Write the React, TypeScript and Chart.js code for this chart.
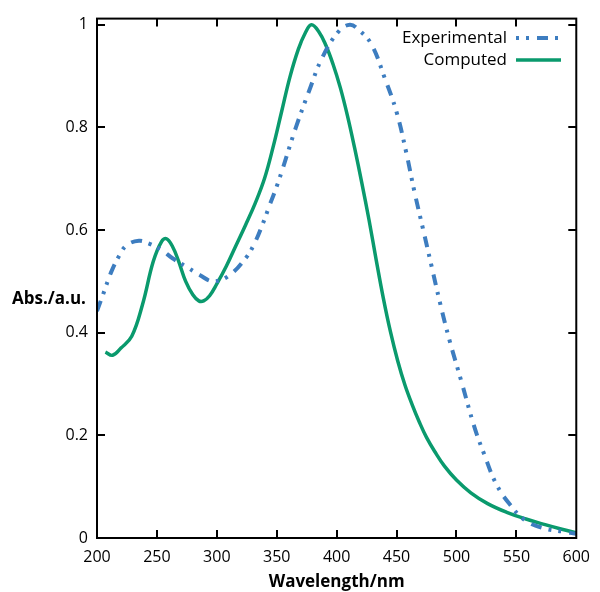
import React, { useEffect, useRef } from "react";
import { Chart, registerables } from "chart.js";

Chart.register(...registerables);

const expWavelength = [200, 205, 212, 219, 225, 235, 243, 254, 263, 275, 286, 297, 310, 324, 331, 338, 344, 350, 355, 366, 377, 388, 402, 411, 418, 429, 440, 450, 458, 465, 472, 479, 486, 494, 504, 515, 523, 533, 544, 557, 573, 590, 600];
const expAbs = [0.442, 0.474, 0.519, 0.552, 0.571, 0.579, 0.574, 0.561, 0.545, 0.528, 0.512, 0.5, 0.511, 0.545, 0.572, 0.61, 0.648, 0.685, 0.72, 0.8, 0.871, 0.936, 0.988, 1.0, 0.991, 0.962, 0.897, 0.83, 0.752, 0.674, 0.603, 0.532, 0.461, 0.387, 0.306, 0.216, 0.164, 0.106, 0.067, 0.035, 0.019, 0.012, 0.008];

const compWavelength = [207, 213, 220, 229, 238, 247, 254, 258, 263, 268, 274, 280, 285, 289, 294, 300, 308, 316, 324, 332, 340, 347, 354, 361, 368, 374, 379, 385, 391, 397, 403, 409, 415, 421, 427, 433, 439, 445, 451, 457, 463, 469, 475, 482, 490, 500, 512, 526, 542, 558, 574, 588, 600];
const compAbs = [0.362, 0.356, 0.37, 0.393, 0.455, 0.539, 0.578, 0.583, 0.568, 0.54, 0.5, 0.474, 0.462, 0.462, 0.472, 0.495, 0.53, 0.57, 0.61, 0.652, 0.702, 0.762, 0.83, 0.898, 0.952, 0.985, 1.0, 0.987, 0.96, 0.923, 0.878, 0.823, 0.76, 0.692, 0.62, 0.542, 0.467, 0.401, 0.345, 0.298, 0.26, 0.226, 0.196, 0.168, 0.14, 0.113, 0.088, 0.067, 0.05, 0.037, 0.026, 0.017, 0.01];

const xTicks = [200, 250, 300, 350, 400, 450, 500, 550, 600];
const yTicks = [0, 0.2, 0.4, 0.6, 0.8, 1];

const seriesNames = ["Experimental", "Computed"];
const BLUE = "#3d7dc0";
const GREEN = "#0a9a6d";
const DASH = [11, 7, 3, 7, 3, 8];
const FONT = '"Open Sans", "DejaVu Sans", sans-serif';

const framePlugin = {
  id: "frame",
  afterDraw(chart: any) {
    const { ctx, chartArea: a, scales } = chart;
    ctx.save();
    ctx.strokeStyle = "#000";
    ctx.lineWidth = 2;
    ctx.strokeRect(a.left, a.top, a.right - a.left, a.bottom - a.top);
    const L = 8;
    ctx.beginPath();
    scales.x.ticks.forEach((t: any) => {
      const px = Math.round(scales.x.getPixelForValue(t.value));
      if (px <= a.left + 1 || px >= a.right - 1) return;
      ctx.moveTo(px, a.bottom);
      ctx.lineTo(px, a.bottom - L);
      ctx.moveTo(px, a.top);
      ctx.lineTo(px, a.top + L);
    });
    scales.y.ticks.forEach((t: any) => {
      const py = Math.round(scales.y.getPixelForValue(t.value));
      if (py >= a.bottom - 1 || py <= a.top + 1) return;
      ctx.moveTo(a.left, py);
      ctx.lineTo(a.left + L, py);
      ctx.moveTo(a.right, py);
      ctx.lineTo(a.right - L, py);
    });
    ctx.stroke();

    // y-axis label (horizontal)
    ctx.fillStyle = "#000";
    ctx.font = `bold 17px ${FONT}`;
    ctx.textAlign = "left";
    ctx.textBaseline = "middle";
    ctx.fillText("Abs./a.u.", 12, 299);

    // legend
    ctx.font = `17px ${FONT}`;
    ctx.textAlign = "right";
    const rows = [
      { name: seriesNames[0], color: BLUE, dash: DASH, y: 38, w: 4 },
      { name: seriesNames[1], color: GREEN, dash: [], y: 60, w: 3.5 },
    ];
    rows.forEach((r) => {
      ctx.fillStyle = "#000";
      ctx.fillText(r.name, 507, r.y);
      ctx.beginPath();
      ctx.strokeStyle = r.color;
      ctx.lineWidth = r.w;
      ctx.setLineDash(r.dash);
      ctx.lineDashOffset = 18;
      ctx.moveTo(516, r.y);
      ctx.lineTo(561, r.y);
      ctx.stroke();
    });
    ctx.restore();
  },
};

export default function App() {
  const ref = useRef<HTMLCanvasElement | null>(null);
  useEffect(() => {
    if (!ref.current) return;
    const chart = new Chart(ref.current, {
      type: "line",
      data: {
        datasets: [
          {
            label: seriesNames[0],
            data: expWavelength.map((x, i) => ({ x, y: expAbs[i] })),
            borderColor: BLUE,
            borderWidth: 4,
            borderDash: DASH,
            pointRadius: 0,
            tension: 0.4,
            fill: false,
          },
          {
            label: seriesNames[1],
            data: compWavelength.map((x, i) => ({ x, y: compAbs[i] })),
            borderColor: GREEN,
            borderWidth: 3.5,
            pointRadius: 0,
            tension: 0.4,
            fill: false,
          },
        ],
      },
      plugins: [framePlugin],
      options: {
        responsive: false,
        animation: false,
        layout: { padding: { left: 0, top: 16, right: 21, bottom: 0 } },
        plugins: { legend: { display: false }, tooltip: { enabled: false } },
        scales: {
          x: {
            type: "linear",
            min: 200,
            max: 600,
            afterFit: (s: any) => {
              s.height = 54;
            },
            afterBuildTicks: (s: any) => {
              s.ticks = xTicks.map((v) => ({ value: v }));
            },
            grid: { display: false, drawTicks: false },
            border: { display: false },
            ticks: {
              color: "#000",
              padding: 10,
              maxRotation: 0,
              autoSkip: false,
              font: { family: FONT, size: 16 },
              callback: (v: any) => String(v),
            },
            title: {
              display: true,
              text: "Wavelength/nm",
              color: "#000",
              padding: { top: 0, bottom: 0 },
              font: { family: FONT, size: 17, weight: "bold" },
            },
          },
          y: {
            type: "linear",
            min: 0,
            max: 1.012,
            afterFit: (s: any) => {
              s.width = 97;
            },
            afterBuildTicks: (s: any) => {
              s.ticks = yTicks.map((v) => ({ value: v }));
            },
            grid: { display: false, drawTicks: false },
            border: { display: false },
            ticks: {
              color: "#000",
              padding: 9,
              autoSkip: false,
              font: { family: FONT, size: 16 },
              callback: (v: any) => String(v),
            },
          },
        },
      },
    });
    return () => chart.destroy();
  }, []);
  return (
    <div style={{ position: "fixed", left: 0, top: 0, width: 600, height: 592, background: "#fff" }}>
      <canvas ref={ref} width={600} height={592} style={{ width: 600, height: 592 }} />
    </div>
  );
}
